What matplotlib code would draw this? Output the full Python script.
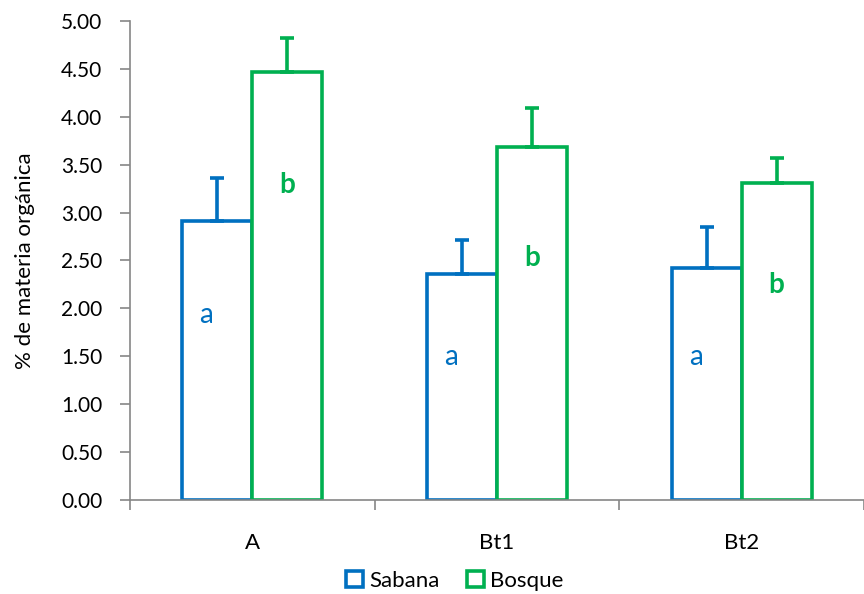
import matplotlib
matplotlib.use("Agg")
import matplotlib.pyplot as plt
from matplotlib.patches import Patch

categories = ["A", "Bt1", "Bt2"]
sabana = [2.91, 2.36, 2.42]
sabana_err = [0.45, 0.35, 0.43]
bosque = [4.47, 3.68, 3.31]
bosque_err = [0.35, 0.41, 0.26]
sabana_letters = ["a", "a", "a"]
bosque_letters = ["b", "b", "b"]
sabana_letter_y = [1.93, 1.49, 1.49]
bosque_letter_y = [3.29, 2.53, 2.24]
yticks = [0.0, 0.5, 1.0, 1.5, 2.0, 2.5, 3.0, 3.5, 4.0, 4.5, 5.0]

plt.rcParams['font.family'] = ['Lato', 'DejaVu Sans']

blue = "#0070C0"
green = "#00B050"
grey = "#868686"

fig = plt.figure(figsize=(8.64, 5.94), dpi=100)
ax = fig.add_axes([130/864, (594-500)/594, (864-130)/864, (500-21)/594])

w = 0.286
off = 0.143
lw = 2.6
x = list(range(len(categories)))
xs = [i - off for i in x]
xb = [i + off for i in x]

ax.bar(xs, sabana, width=w, facecolor="white", edgecolor=blue, linewidth=lw, zorder=2)
ax.bar(xb, bosque, width=w, facecolor="white", edgecolor=green, linewidth=lw, zorder=2)
ax.errorbar(xs, sabana, yerr=[[0]*3, sabana_err], fmt="none", ecolor=blue,
            elinewidth=lw, capsize=4.7, capthick=lw, zorder=3)
ax.errorbar(xb, bosque, yerr=[[0]*3, bosque_err], fmt="none", ecolor=green,
            elinewidth=lw, capsize=4.7, capthick=lw, zorder=3)

for i in x:
    ax.text(xs[i] - 0.045, sabana_letter_y[i], sabana_letters[i], color=blue,
            fontsize=20, ha="center", va="center")
    ax.text(xb[i] + 0.0, bosque_letter_y[i], bosque_letters[i], color=green,
            fontsize=20, fontweight="bold", ha="center", va="center")

unit = 248.5
ax.set_xlim(-0.5, -0.5 + (864-130)/unit)
ax.set_ylim(0, 5.0)
ax.set_yticks(yticks)
ax.set_yticklabels([f"{v:.2f}" for v in yticks], fontsize=15)
ax.set_xticks([-0.5, 0.5, 1.5, 2.5])
ax.set_xticklabels([])
ax.set_xticks(x, minor=True)
ax.set_xticklabels(categories, minor=True, fontsize=16)
ax.tick_params(axis="x", which="minor", length=0, pad=24)
ax.tick_params(axis="x", which="major", length=7, color=grey, width=1.2)
ax.tick_params(axis="y", length=7, color=grey, width=1.2, pad=13)

for s in ["top", "right"]:
    ax.spines[s].set_visible(False)
for s in ["left", "bottom"]:
    ax.spines[s].set_color(grey)
    ax.spines[s].set_linewidth(1.2)
    ax.spines[s].set_zorder(4)

ax.set_ylabel("% de materia orgánica", fontsize=16)
ax.yaxis.set_label_coords((35 - 130)/734, 0.5)

handles = [Patch(facecolor="white", edgecolor=blue, linewidth=lw, label="Sabana"),
           Patch(facecolor="white", edgecolor=green, linewidth=lw, label="Bosque")]
fig.legend(handles=handles, loc="center", bbox_to_anchor=(455/864, 1 - 581/594),
           ncol=2, frameon=False, fontsize=16, handlelength=0.75, handleheight=0.75,
           handletextpad=0.3, columnspacing=1.2, borderpad=0)

fig.savefig("out.png", dpi=100)
